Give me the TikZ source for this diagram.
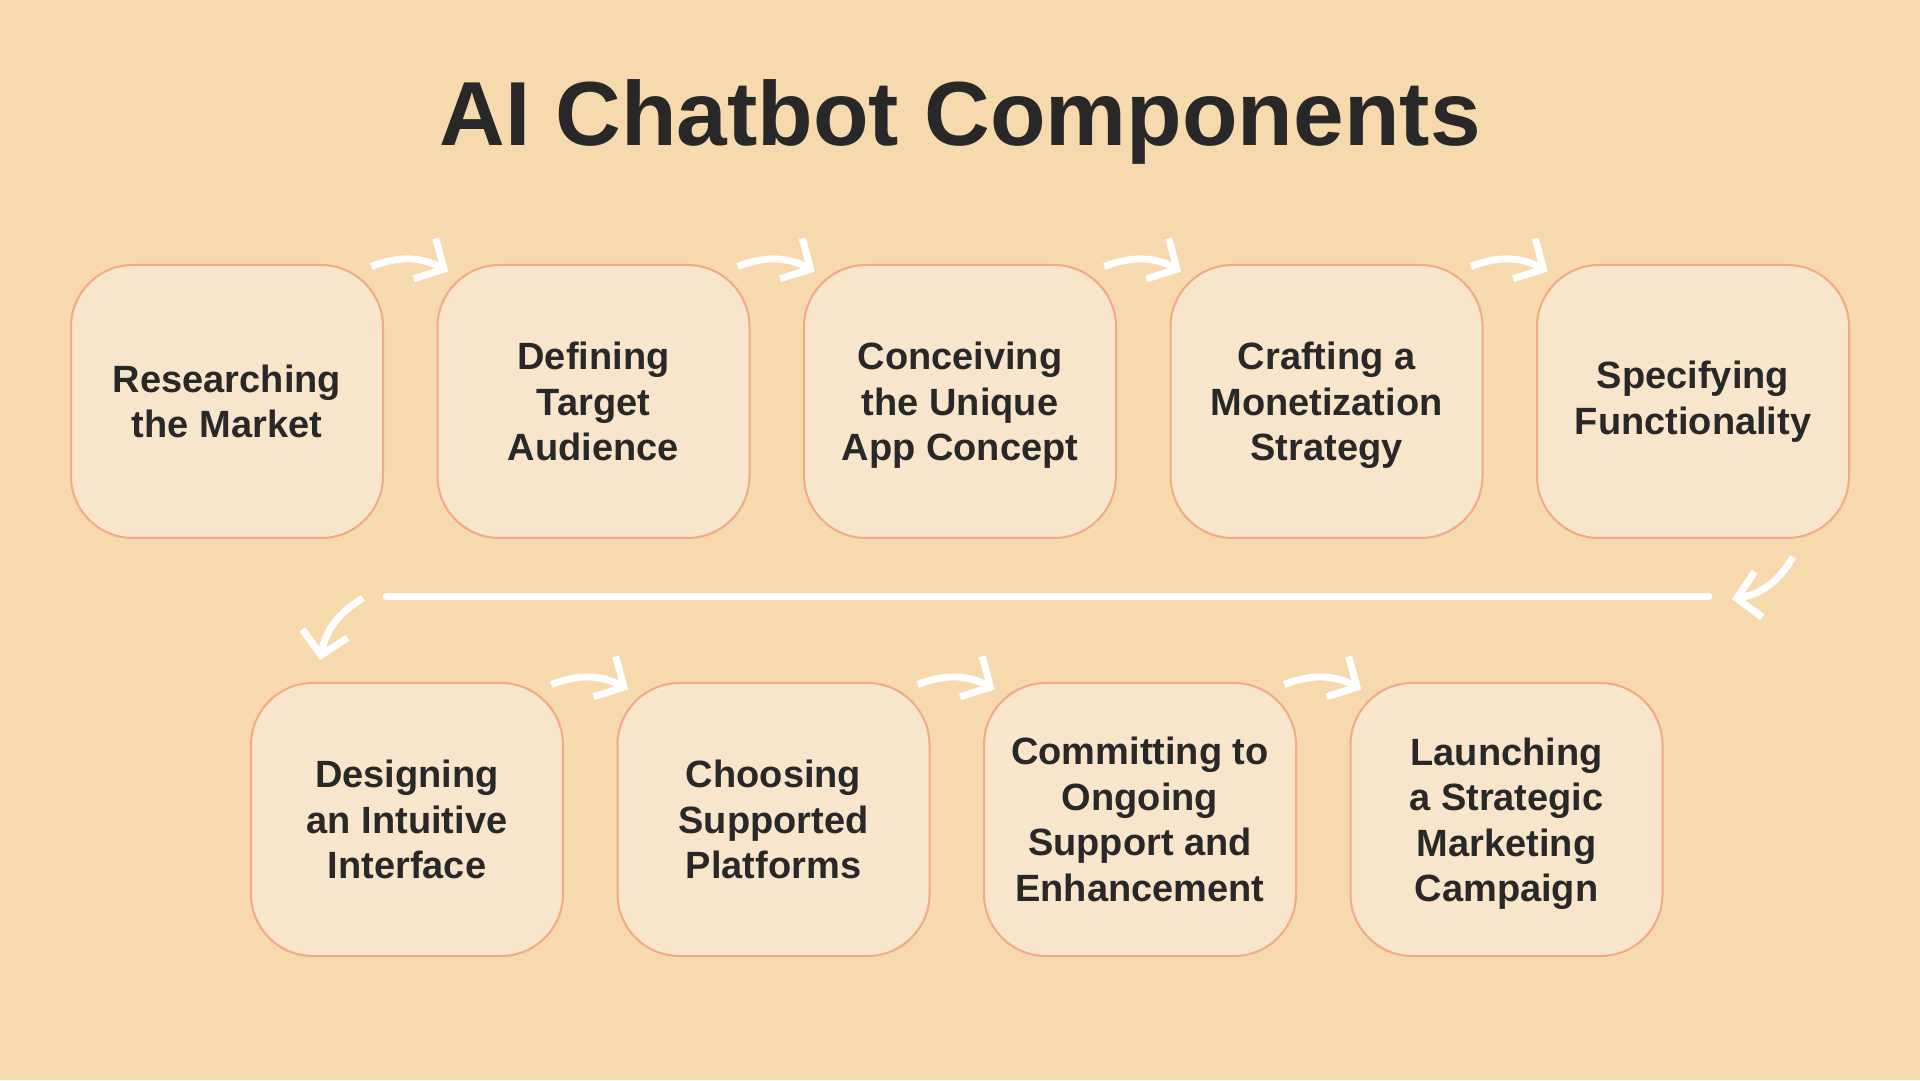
\documentclass[tikz,border=0pt]{standalone}
\usepackage{fontspec}
\setmainfont{Liberation Sans}
\usetikzlibrary{arrows.meta,calc}
\definecolor{bgc}{HTML}{F7D9AE}
\definecolor{boxfill}{HTML}{F8E6CC}
\definecolor{boxline}{HTML}{F2A985}
\definecolor{textc}{HTML}{282828}
\begin{document}
\begin{tikzpicture}[x=1pt,y=1pt,
  stepbox/.style={draw=boxline, line width=2pt, fill=boxfill, rounded corners=62pt,
    minimum width=312pt, minimum height=273pt, inner sep=0pt, align=center,
    font=\fontsize{38}{45.5}\selectfont\bfseries, text=textc},
  nodepth/.style={text depth=0pt},
  flow/.style={draw=white, line width=7pt, -{Straight Barb[length=22pt,width=46pt]}},
  plain/.style={draw=white, line width=7pt, line cap=round},
  titlestyle/.style={font=\fontsize{91}{100}\selectfont\bfseries, text=textc, anchor=base}
]
\fill[bgc] (0,0) rectangle (1920,1080);
\useasboundingbox (0,0) rectangle (1920,1080);

\node[titlestyle] (title) at (960,934) {AI Chatbot Components};

% top row
\node[stepbox] (b1) at (227,678.5) {Researching\\the Market};
\node[stepbox] (b2) at (593.5,678.5) {Defining\\Target\\Audience};
\node[stepbox, nodepth] (b3) at (960,678.5) {Conceiving\\the Unique\\App Concept};
\node[stepbox, nodepth] (b4) at (1326.5,678.5) {Crafting a\\Monetization\\Strategy};
\node[stepbox] (b5) at (1693,678.5) {Specifying\\Functionality};
% bottom row
\node[stepbox] (b6) at (407,260.5) {Designing\\an Intuitive\\Interface};
\node[stepbox] (b7) at (773.5,260.5) {Choosing\\Supported\\Platforms};
\node[stepbox] (b8) at (1140,260.5) {Committing to\\Ongoing\\Support and\\Enhancement};
\node[stepbox, nodepth] (b9) at (1506.5,260.5) {Launching\\a Strategic\\Marketing\\Campaign};

% small arrows between neighbours
\foreach \a/\b in {b1/b2,b2/b3,b3/b4,b4/b5,b6/b7,b7/b8,b8/b9}{
  \coordinate (\a-s) at ($(\a.north)!0.5!(\b.north)+(-39,-2.5)$);
  \coordinate (\a-e) at ($(\a.north)!0.5!(\b.north)+(38,-7.5)$);
  \draw[flow] (\a-s) to[bend left=25] (\a-e);
}

% return connector
\coordinate (ras) at (1793,523);
\coordinate (rae) at (1732,481);
\coordinate (ls) at (1709,483);
\coordinate (le) at (386,483);
\coordinate (las) at (363,482);
\coordinate (lae) at (320,420);
\draw[flow] (ras) to[bend left=25] (rae);
\draw[plain] (ls) -- (le);
\draw[flow] (las) to[bend right=24] (lae);
\end{tikzpicture}
\end{document}
